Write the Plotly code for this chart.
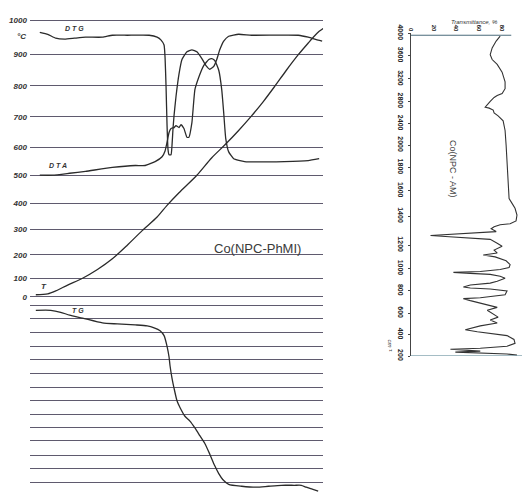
import plotly.graph_objects as go

# ---------------- Thermal analysis panel (chart coordinates: x along chart, y = chart position from top) ----
temp_labels = ["1000", "900", "800", "700", "600", "500", "400", "300", "200", "100", "0"]
temp_grid_pos = [12, 47, 79, 111, 142, 171, 200, 227, 253, 277, 296]
tg_grid_pos = [305, 318, 333, 347, 361, 375, 389, 403, 417, 431, 444, 459, 473, 487, 499]

dtg_x = [37, 45, 53, 62, 72, 83, 100, 110, 125, 147, 155, 159, 162, 163, 164, 165, 166, 167, 169, 170, 171,
         172, 174, 177, 180, 185, 190, 195, 200, 204, 208, 212, 215, 218, 222, 227, 237, 250, 297, 307, 317, 321]
dtg_y = [24, 26, 30, 31, 30, 29, 29, 27, 27, 27, 29, 32, 37, 50, 80, 120, 145, 150, 150, 140, 123,
         110, 90, 67, 52, 44, 42, 44, 51, 58, 62, 59, 52, 42, 33, 28, 26, 27, 27, 29, 32, 33]

dta_x = [37, 50, 67, 83, 110, 133, 143, 153, 160, 163, 165, 167, 169, 172, 174, 177, 179, 182, 185, 187,
         190, 193, 197, 202, 207, 210, 213, 217, 220, 222, 224, 227, 232, 243, 283, 307, 318]
dta_y = [171, 171, 169, 167, 163, 161, 161, 157, 152, 146, 137, 127, 123, 122, 120, 122, 119, 123, 132, 132,
         117, 83, 70, 58, 52, 51, 53, 63, 83, 107, 133, 147, 154, 157, 157, 156, 154]

t_x = [33, 45, 53, 65, 80, 95, 110, 125, 140, 155, 165, 177, 195, 210, 223, 237, 250, 262, 273, 285, 297,
       307, 313, 318, 322]
t_y = [294, 293, 290, 284, 277, 268, 257, 243, 228, 214, 202, 189, 171, 153, 140, 125, 110, 95, 80, 63, 47,
       35, 28, 23, 20]

tg_x = [33, 48, 58, 67, 80, 100, 115, 133, 145, 152, 158, 162, 165, 167, 168, 170, 172, 175, 178, 183, 188,
        193, 198, 203, 208, 213, 217, 221, 227, 240, 255, 267, 280, 293, 300, 305, 311, 317]
tg_y = [310, 310, 312, 315, 318, 323, 324, 325, 326, 328, 331, 336, 347, 358, 367, 380, 390, 403, 410, 419, 424,
        431, 439, 447, 458, 470, 478, 484, 489, 491, 492, 491, 490, 490, 490, 492, 494, 496]

# ---------------- IR spectrum panel (x = transmittance %, y = chart position along wavenumber scale) ----
ir_tick_pos = [25, 48, 72, 95, 118, 140, 163, 187, 213, 243, 267, 290, 313, 335, 357]
ir_tick_labels = ["4000", "3600", "3200", "2800", "2400", "2000", "1800", "1600", "1400", "1200", "1000",
                  "800", "600", "400", "200"]
trans_ticks = [0, 20, 40, 60, 80]

ir_trans = [78.3, 74.8, 71.3, 69.6, 71.3, 75.7, 80.0, 82.6, 82.6, 80.0, 75.7, 73.0, 69.6, 67.0, 65.2, 68.7,
            72.2, 73.0, 76.5, 80.9, 82.6, 83.5, 84.3, 85.2, 86.1, 88.7, 91.3, 93.0, 92.2, 87.0, 78.3, 73.0,
            70.4, 74.8, 60.9, 26.1, 17.4, 30.4, 52.2, 69.6, 75.7, 80.0, 73.0, 75.7, 63.5, 73.9, 83.5, 87.0,
            86.1, 78.3, 60.9, 37.4, 52.2, 69.6, 78.3, 82.6, 75.7, 69.6, 52.2, 46.1, 52.2, 69.6, 84.3, 82.6,
            60.9, 46.1, 52.2, 63.5, 69.6, 75.7, 67.0, 71.3, 76.5, 69.6, 75.7, 60.9, 49.6, 47.8, 58.3, 73.9,
            84.3, 90.4, 91.3, 84.3, 60.9, 34.8, 54.8, 60.9, 39.1, 69.6, 84.3, 93.0]
ir_pos = [28, 33, 40, 47, 52, 57, 65, 75, 82, 87, 89, 91, 95, 99, 101, 102,
          104, 107, 110, 115, 125, 140, 160, 180, 195, 200, 205, 212, 218, 221, 222, 224,
          226, 229, 230, 232, 233, 234, 236, 237, 241, 244, 248, 251, 253, 255, 259, 263,
          266, 268, 270, 271, 272, 273, 275, 277, 280, 282, 284, 286, 287, 288, 290, 294,
          297, 298, 300, 303, 305, 307, 310, 313, 317, 320, 323, 326, 329, 330, 332, 334,
          336, 340, 344, 347, 349, 350, 351, 352, 353, 354, 355, 356]

ink = "#2b2b2b"
gridc = "#5f5a6e"

fig = go.Figure()

def curve(x, y, smooth=0.5):
    return go.Scatter(x=x, y=y, mode="lines", xaxis="x", yaxis="y", hoverinfo="skip", showlegend=False,
                      line=dict(color=ink, width=1.3, shape="spline", smoothing=smooth))

fig.add_trace(curve(dtg_x, dtg_y, 0.4))
fig.add_trace(curve(dta_x, dta_y, 0.4))
fig.add_trace(curve(t_x, t_y, 0.8))
fig.add_trace(curve(tg_x, tg_y, 0.6))

fig.add_trace(go.Scatter(x=ir_trans, y=ir_pos, mode="lines", xaxis="x2", yaxis="y2", hoverinfo="skip",
                         showlegend=False, line=dict(color="#333333", width=1.1)))

label_font = dict(family="Liberation Sans", size=8, color="#333333", style="italic", weight="bold")

fig.update_layout(
    width=522, height=500,
    margin=dict(l=0, r=0, t=0, b=0),
    paper_bgcolor="white", plot_bgcolor="rgba(0,0,0,0)",
    showlegend=False,
    xaxis=dict(domain=[27 / 522, 322 / 522], range=[27, 322], visible=False),
    yaxis=dict(domain=[0, 1], range=[500, 0], anchor="x",
               tickvals=temp_grid_pos + tg_grid_pos,
               ticktext=temp_labels + [""] * len(tg_grid_pos),
               showgrid=True, gridcolor=gridc, gridwidth=1, zeroline=False, showline=False,
               ticks="", ticklabelstandoff=2, tickfont=label_font),
    xaxis2=dict(domain=[410 / 522, 1], range=[0, 97.4], anchor="y2", side="top",
                tickvals=trans_ticks, ticktext=[str(v) for v in trans_ticks], tickangle=90,
                ticks="", showline=False, showgrid=False,
                zeroline=False, ticklabelstandoff=0,
                tickfont=dict(family="Liberation Sans", size=6, color="#222", weight="bold")),
    yaxis2=dict(domain=[143 / 500, 475 / 500], range=[357, 25], anchor="x2",
                tickvals=ir_tick_pos, ticktext=ir_tick_labels, tickangle=90,
                showline=True, linecolor="#444", linewidth=1, ticks="outside", ticklen=2,
                tickcolor="#444", showgrid=False, zeroline=False, ticklabelstandoff=1,
                tickfont=dict(family="Liberation Sans", size=7, color="#222", weight="bold")),
    shapes=[
        dict(type="line", xref="x2", yref="y2", x0=0, x1=88, y0=27, y1=27, line=dict(color="#4a6a7a", width=1)),
        dict(type="line", xref="x2 domain", yref="y2", x0=0, x1=1, y0=357, y1=357,
             line=dict(color="#4a7a8a", width=1)),
    ],
    annotations=[
        dict(text="°C", xref="paper", yref="y", x=12 / 522, y=28, showarrow=False, font=label_font),
        dict(text="D T G", xref="x", yref="y", x=72, y=20, showarrow=False, font=dict(label_font, size=7)),
        dict(text="D T A", xref="x", yref="y", x=55, y=161, showarrow=False, font=dict(label_font, size=7)),
        dict(text="T", xref="x", yref="y", x=41, y=285, showarrow=False, font=label_font),
        dict(text="T G", xref="x", yref="y", x=75, y=310, showarrow=False, font=dict(label_font, size=7)),
        dict(text="Co(NPC-PhMI)", xref="x", yref="y", x=256, y=246, showarrow=False,
             font=dict(family="Liberation Sans", size=13, color="#3a3a3a")),
        dict(text="Transmittance, %", xref="x2", yref="paper", x=56, y=(500 - 8) / 500, showarrow=False,
             font=dict(family="Liberation Sans", size=6, color="#333", style="italic")),
        dict(text="cm⁻¹", xref="paper", yref="y2", x=394 / 522, y=346, showarrow=False, textangle=90,
             font=dict(family="Liberation Sans", size=6, color="#333", style="italic")),
        dict(text="Co(NPC - AM)", xref="x2", yref="y2", x=36.5, y=165, showarrow=False, textangle=90,
             font=dict(family="Liberation Sans", size=9, color="#444")),
    ],
)

fig.write_html("out.html")
